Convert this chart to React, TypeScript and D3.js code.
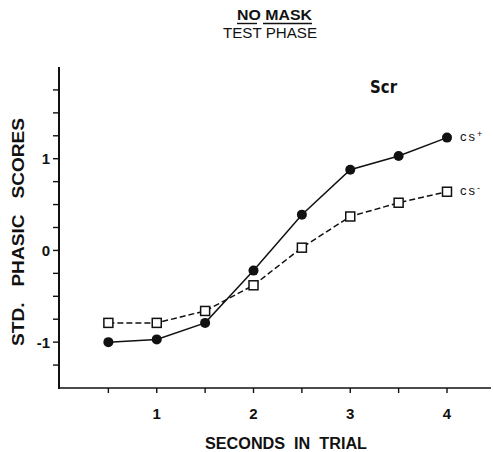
import React from "react";
import * as d3 from "d3";

const seconds = [0.5, 1, 1.5, 2, 2.5, 3, 3.5, 4];
const csPlus = [-1.0, -0.97, -0.79, -0.22, 0.39, 0.88, 1.03, 1.23];
const csMinus = [-0.79, -0.79, -0.66, -0.38, 0.03, 0.37, 0.52, 0.64];
const xTickLabels = [1, 2, 3, 4];
const yTickLabels = [-1, 0, 1];

const W = 493;
const H = 452;

export default function App() {
  const x = d3.scaleLinear().domain([0, 4]).range([60, 447]);
  const y = d3.scaleLinear().domain([-1.5, 2]).range([388, 67]);
  const xMinor = d3.range(0.5, 4.01, 0.5);
  const yMinor = d3.range(-1.25, 1.76, 0.25);
  const line = d3
    .line<number>()
    .x((_, i) => x(seconds[i]))
    .y((d) => y(d));
  const font = "'Liberation Sans', Arial, sans-serif";
  return (
    <svg width={W} height={H} style={{ position: "absolute", left: 0, top: 0, background: "#fff" }}>
      <g fontFamily={font} fill="#111">
        <text x={237} y={20} fontSize={14} fontWeight="bold" textLength={75} lengthAdjust="spacingAndGlyphs">
          NO MASK
        </text>
        <line x1={237} x2={257} y1={23.5} y2={23.5} stroke="#111" strokeWidth={1.4} />
        <line x1={263} x2={312} y1={23.5} y2={23.5} stroke="#111" strokeWidth={1.4} />
        <text x={223} y={38} fontSize={14} textLength={94} lengthAdjust="spacingAndGlyphs">
          TEST PHASE
        </text>
      </g>
      {/* axes */}
      <line x1={59} x2={59} y1={67} y2={389} stroke="#111" strokeWidth={2} />
      <line x1={58} x2={491} y1={388} y2={388} stroke="#111" strokeWidth={1.6} />
      {yMinor.map((v) => (
        <line key={"yt" + v} x1={53} x2={59} y1={y(v)} y2={y(v)} stroke="#111" strokeWidth={1.4} />
      ))}
      {xMinor.map((v) => (
        <line key={"xt" + v} x1={x(v)} x2={x(v)} y1={388} y2={393} stroke="#111" strokeWidth={1.4} />
      ))}
      <g fontFamily={font} fontWeight="bold" fontSize={15} fill="#111">
        {yTickLabels.map((v) => (
          <text key={"yl" + v} x={50} y={y(v) + 5.5} textAnchor="end">
            {v === -1 ? "-1" : v}
          </text>
        ))}
        {xTickLabels.map((v) => (
          <text key={"xl" + v} x={x(v)} y={419} textAnchor="middle">
            {v}
          </text>
        ))}
        <text x={205} y={449} fontSize={16} textLength={162} lengthAdjust="spacingAndGlyphs" style={{ whiteSpace: "pre" }}>
          {"SECONDS  IN  TRIAL"}
        </text>
        <text
          transform={`translate(24, 346) rotate(-90)`}
          fontSize={16}
          textLength={228}
          lengthAdjust="spacingAndGlyphs"
          style={{ whiteSpace: "pre" }}
        >
          {"STD.   PHASIC   SCORES"}
        </text>
        <text
          x={370}
          y={93}
          fontSize={17}
          textLength={27}
          lengthAdjust="spacingAndGlyphs"
          fontFamily="'Liberation Sans Narrow', 'DejaVu Sans Condensed', sans-serif"
          fontWeight="bold"
        >
          Scr
        </text>
      </g>
      {/* series */}
      <path d={line(csMinus) || ""} fill="none" stroke="#111" strokeWidth={1.5} strokeDasharray="6,3" />
      <path d={line(csPlus) || ""} fill="none" stroke="#111" strokeWidth={1.5} />
      {csMinus.map((v, i) => (
        <rect
          key={"s" + i}
          x={x(seconds[i]) - 4.5}
          y={y(v) - 4.5}
          width={9}
          height={9}
          fill="#fff"
          stroke="#111"
          strokeWidth={1.5}
        />
      ))}
      {csPlus.map((v, i) => (
        <circle key={"c" + i} cx={x(seconds[i])} cy={y(v)} r={5} fill="#111" />
      ))}
      <g fontFamily={font} fontSize={13} fill="#111" letterSpacing={2}>
        <text x={460} y={141}>
          cs<tspan fontSize={9} dy={-4}>+</tspan>
        </text>
        <text x={460} y={195}>
          cs<tspan fontSize={9} dy={-4}>-</tspan>
        </text>
      </g>
    </svg>
  );
}
